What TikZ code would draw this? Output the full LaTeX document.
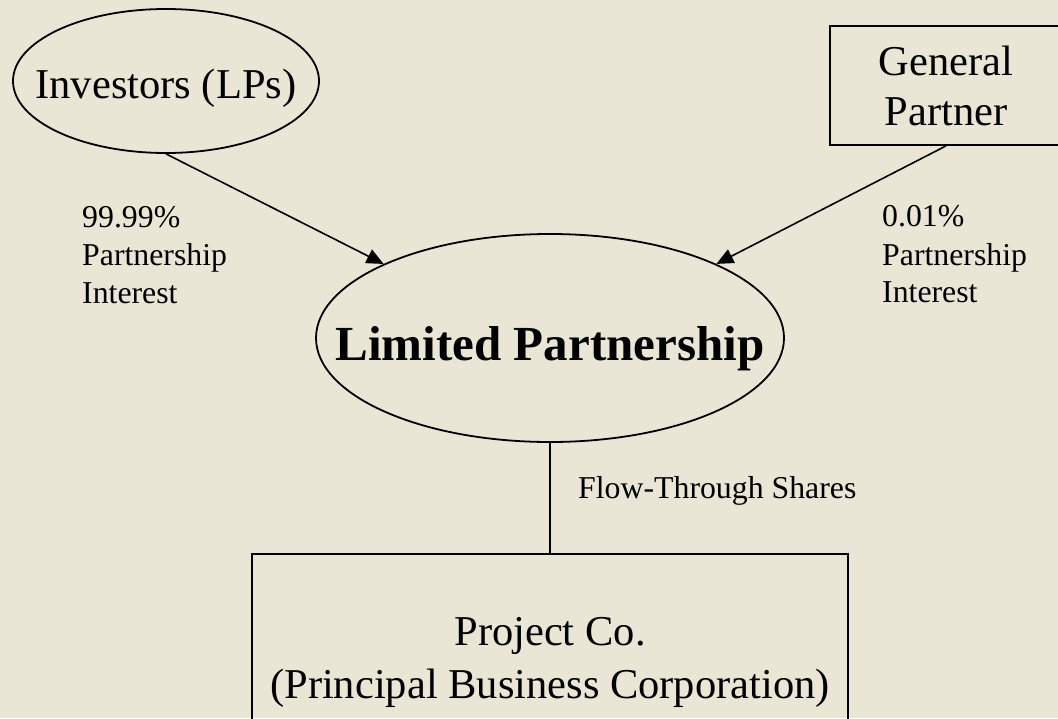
\documentclass[tikz,border=0pt]{standalone}
\usepackage{fontspec}
\setmainfont{Liberation Serif}
\usetikzlibrary{shapes.geometric,arrows.meta}

\definecolor{paper}{RGB}{233,230,213}

\tikzset{
  outline/.style={draw=black, line width=1.8pt, inner sep=0pt},
  oval/.style={outline, ellipse},
  panel/.style={outline, rectangle},
  bigtext/.style={anchor=base, inner sep=0pt, font=\fontsize{42.5}{50}\selectfont},
  boldtext/.style={anchor=base, inner sep=0pt, font=\fontsize{49}{58}\selectfont\bfseries},
  note/.style={anchor=base west, inner sep=0pt, font=\fontsize{31.8}{38}\selectfont},
  link/.style={line width=1.6pt},
  feed/.style={link, -{Triangle[length=17pt, width=15pt]}}
}

\begin{document}
\begin{tikzpicture}[x=1pt, y=-1pt]
  % page area and background
  \useasboundingbox (0,0) rectangle (1058,718);
  \clip (0,0) rectangle (1058,718);
  \fill[paper] (0,0) rectangle (1058,718);

  % entities
  \node[oval, minimum width=306pt, minimum height=144pt] (inv) at (166,81) {};
  \node[bigtext] (invtxt) at (166,98) {Investors (LPs)};

  \node[panel, minimum width=232pt, minimum height=119pt] (gp) at (946,85.5) {};
  \node[bigtext] (gptxt1) at (946,75) {General};
  \node[bigtext] (gptxt2) at (946,125) {Partner};

  \node[oval, minimum width=468pt, minimum height=208pt] (lp) at (550,338) {};
  \node[boldtext] (lptxt) at (550,360) {Limited Partnership};

  \node[panel, minimum width=596pt, minimum height=206pt] (pc) at (550,657) {};
  \node[bigtext] (pctxt1) at (550,645) {Project Co.};
  \node[bigtext] (pctxt2) at (550,698) {(Principal Business Corporation)};

  % ownership links
  \draw[feed] (inv.south) -- (lp.156);
  \draw[feed] (gp.south) -- (lp.24);
  \draw[link] (lp.south) -- (pc.north);

  % link labels
  \node[note] (l1a) at (82,227) {99.99\%};
  \node[note] (l1b) at (82,265) {Partnership};
  \node[note] (l1c) at (82,303) {Interest};

  \node[note] (l2a) at (882,226) {0.01\%};
  \node[note] (l2b) at (882,265) {Partnership};
  \node[note] (l2c) at (882,302) {Interest};

  \node[note] (l3) at (578,498) {Flow-Through Shares};
\end{tikzpicture}
\end{document}
